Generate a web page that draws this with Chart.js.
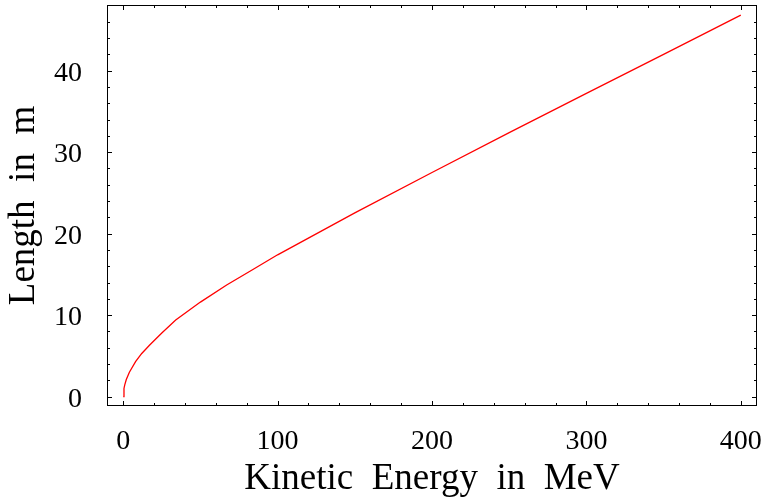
<!DOCTYPE html>
<html>
<head>
<meta charset="utf-8">
<script src="https://cdn.jsdelivr.net/npm/chart.js@4/dist/chart.umd.min.js"></script>
<style>
  html, body { margin: 0; padding: 0; background: #fff; }
  #wrap { width: 764px; height: 500px; }
</style>
</head>
<body>
<div id="wrap"><canvas id="range-chart"></canvas></div>
<script>
// kinetic energy (MeV) vs. length (m)
const energy = [0, 0.5, 1, 2, 4, 8, 12, 17, 25, 34, 50, 67, 84, 100, 150, 200, 250, 300, 350, 400];
const length = [0, 1.0, 1.45, 2.1, 3.0, 4.3, 5.3, 6.3, 7.8, 9.4, 11.6, 13.7, 15.6, 17.4, 22.55, 27.5, 32.4, 37.2, 42.0, 46.8];
const xTickLabels = [0, 100, 200, 300, 400];
const yTickLabels = [0, 10, 20, 30, 40];

const serif = 'Liberation Serif';

// box around the plot with inward ticks on all four sides
const frameTicks = {
    id: 'frameTicks',
    afterDraw(chart) {
        const ctx = chart.ctx;
        const a = chart.chartArea;
        const xs = chart.scales.x, ys = chart.scales.y;
        ctx.save();
        ctx.strokeStyle = '#000';
        ctx.lineWidth = 1;
        ctx.strokeRect(a.left + 0.5, a.top + 0.5, a.right - a.left - 1, a.bottom - a.top - 1);
        ctx.beginPath();
        for (let v = 0; v <= 400; v += 20) {
            const px = Math.round(xs.getPixelForValue(v)) + 0.5;
            const len = xTickLabels.includes(v) ? 5 : 3;
            ctx.moveTo(px, a.bottom); ctx.lineTo(px, a.bottom - len);
            ctx.moveTo(px, a.top); ctx.lineTo(px, a.top + len);
        }
        for (let v = 0; v <= 48; v += 2) {
            const py = Math.round(ys.getPixelForValue(v)) + 0.5;
            const len = yTickLabels.includes(v) ? 5 : 3;
            ctx.moveTo(a.left, py); ctx.lineTo(a.left + len, py);
            ctx.moveTo(a.right, py); ctx.lineTo(a.right - len, py);
        }
        ctx.stroke();
        ctx.restore();
    }
};

new Chart(document.getElementById('range-chart').getContext('2d'), {
    type: 'line',
    data: {
        datasets: [{
            data: energy.map((e, i) => ({ x: e, y: length[i] })),
            borderColor: '#ff0000',
            borderWidth: 1.3,
            pointRadius: 0,
            tension: 0,
            fill: false
        }]
    },
    options: {
        responsive: true,
        maintainAspectRatio: false,
        animation: false,
        layout: { padding: { top: 5, right: 7, left: 0, bottom: 0 } },
        plugins: {
            legend: { display: false },
            tooltip: { enabled: false }
        },
        scales: {
            x: {
                type: 'linear',
                min: -10.5,
                max: 410.5,
                afterBuildTicks: s => { s.ticks = xTickLabels.map(v => ({ value: v })); },
                afterFit: s => {
                    s.height = 94;
                    s.paddingLeft = 0;
                    s.paddingRight = 0;
                },
                grid: { display: false },
                border: { display: false },
                ticks: {
                    padding: 11,
                    color: '#000',
                    font: { family: serif, size: 28, lineHeight: 1.2 },
                    maxRotation: 0,
                    autoSkip: false
                },
                title: {
                    display: true,
                    text: 'Kinetic  Energy  in  MeV',
                    color: '#000',
                    font: { family: serif, size: 37, lineHeight: 1 },
                    padding: { top: 0, bottom: 2 }
                }
            },
            y: {
                type: 'linear',
                min: -1.15,
                max: 48.05,
                afterBuildTicks: s => { s.ticks = yTickLabels.map(v => ({ value: v })); },
                afterFit: s => {
                    s.width = 107;
                    s.paddingTop = 0;
                    s.paddingBottom = 0;
                },
                grid: { display: false },
                border: { display: false },
                ticks: {
                    padding: 17,
                    labelOffset: 3,
                    color: '#000',
                    font: { family: serif, size: 28 },
                    autoSkip: false
                },
                title: {
                    display: true,
                    text: 'Length  in  m',
                    color: '#000',
                    font: { family: serif, size: 37, lineHeight: 1 },
                    padding: { top: 6, bottom: 0 }
                }
            }
        }
    },
    plugins: [frameTicks]
});
</script>
</body>
</html>
